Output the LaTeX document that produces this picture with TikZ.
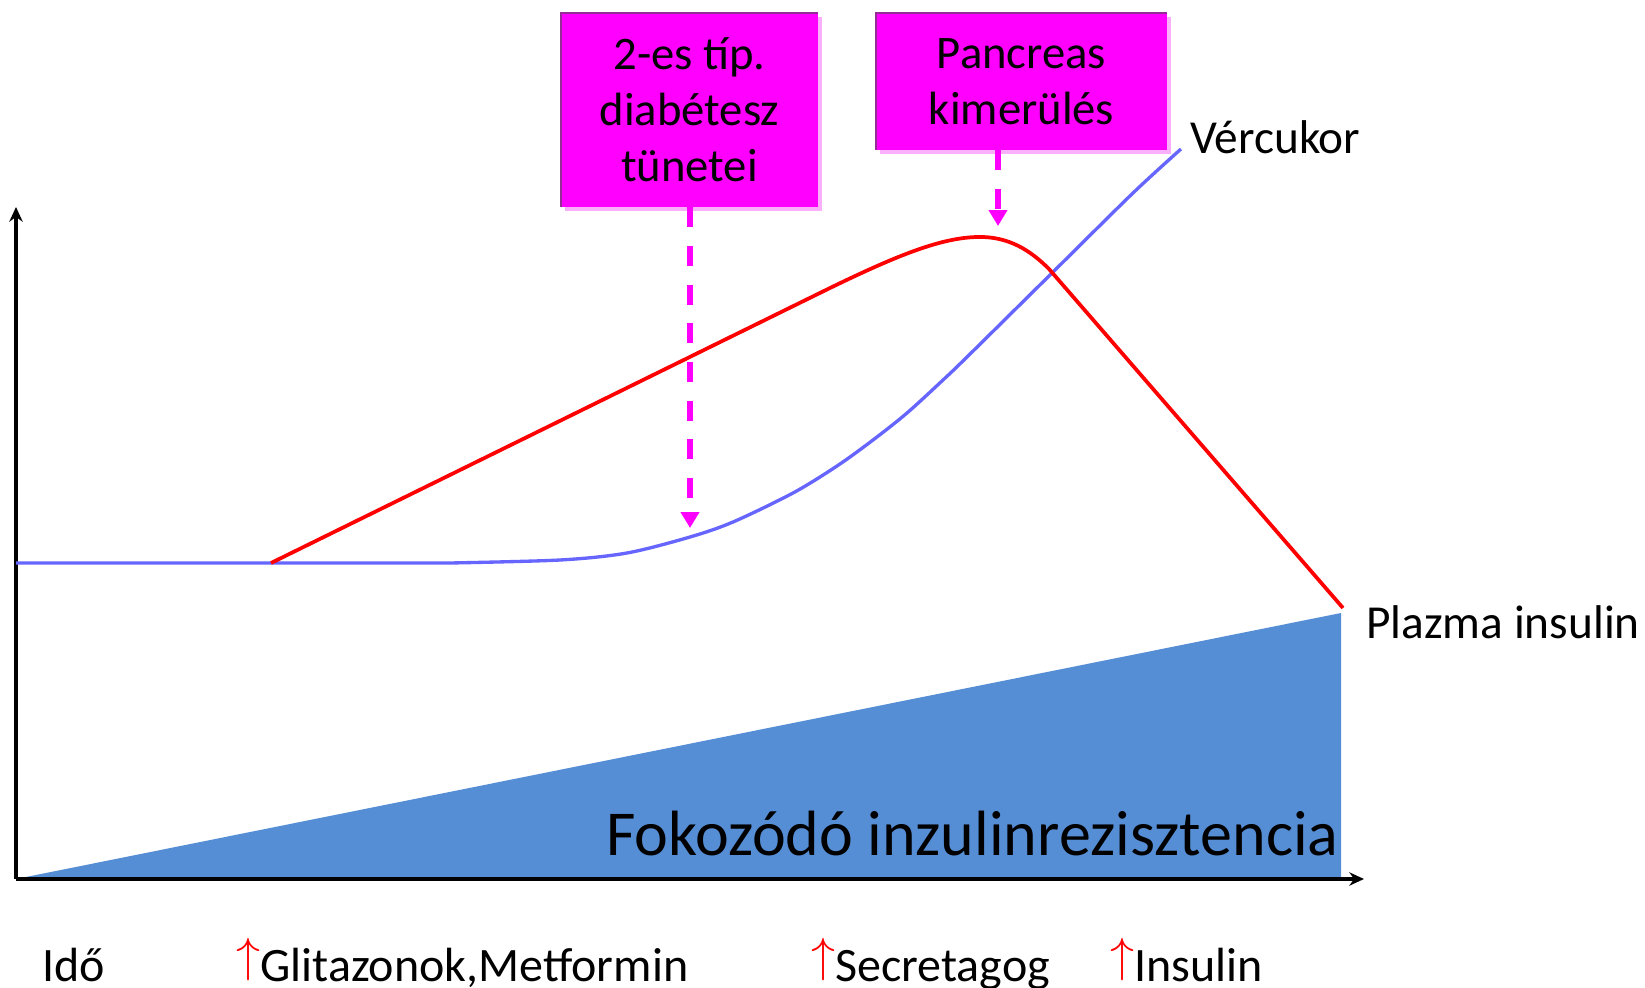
\RequirePackage{fix-cm}
\documentclass[tikz,border=0pt]{standalone}
\usepackage{fontspec}
\setmainfont{Carlito}
\usetikzlibrary{arrows.meta,shadows}
\definecolor{mag}{RGB}{255,0,255}
\definecolor{magdark}{RGB}{150,45,150}
\definecolor{magshadow}{RGB}{250,175,250}
\definecolor{glucose}{RGB}{102,102,255}
\definecolor{resist}{RGB}{85,142,213}
\newcommand{\upmark}{\textcolor{red}{\raisebox{0.194em}{$\uparrow$}}}
\tikzset{
  axis/.style={black, line width=2.5pt, -{Stealth[length=11pt,width=10pt]}},
  glucoseline/.style={glucose, line width=2.5pt},
  insulinline/.style={red, line width=2.8pt},
  stagebox/.style={fill=mag, inner sep=0pt, align=center,
    font=\fontsize{35}{42}\selectfont,
    drop shadow={shadow xshift=3pt, shadow yshift=-3pt, fill=magshadow, opacity=1}},
  dasharrow/.style={mag, line width=4.5pt, dash pattern=on 15pt off 14pt,
    -{Triangle[length=12pt,width=13.5pt]}},
  lbl/.style={inner sep=0pt, font=\fontsize{35.5}{42}\selectfont},
  rowlbl/.style={inner sep=0pt, font=\fontsize{36}{42}\selectfont}
}
\begin{document}
\begin{tikzpicture}[x=0.75pt,y=-0.75pt]
\useasboundingbox (0,0) rectangle (1645,988);

% growing insulin resistance
\fill[resist] (16,879) -- (1341,613) -- (1341,879) -- cycle;
\node[inner sep=0pt, anchor=base west, font=\fontsize{48}{56}\selectfont] (resisttext)
  at (606,855) {Fokozódó inzulinrezisztencia};

% axes
\coordinate (O) at (16,879);
\coordinate (ytop) at (16,207);
\coordinate (xend) at (1364,879);
\draw[axis] (O) -- (ytop);
\draw[axis] (O) -- (xend);

% blood glucose
\draw[glucoseline] (16,563) -- (450,563) -- plot[smooth, tension=0.5] coordinates {
  (450,563) (560,560) (627,553) (690,537) (733,522) (793,493) (837,466)
  (873,440) (907,413) (943,380) (967,357) (1052,273) (1133,193) (1181,149)};

% plasma insulin
\draw[insulinline] (271,563) -- (830,288)
  .. controls (900,254) and (945,236) .. (983,237)
  .. controls (1010,238) and (1030,250) .. (1049,269) -- (1343,608);

% curve labels
\node[lbl, anchor=west] (vc) at (1190,137) {Vércukor};
\node[lbl, anchor=west] (pi) at (1366,622) {Plazma insulin};

% stage boxes
\node[stagebox, minimum width=192.75pt, minimum height=145.5pt] (box1)
  at (689.5,110) {2-es típ.\\diabétesz\\tünetei};
\node[stagebox, minimum width=218.25pt, minimum height=102.75pt] (box2)
  at (1021.5,81.5) {Pancreas\\kimerülés};
\draw[magdark, line width=1.5pt] (box1.south west) -- (box1.north west) -- (box1.north east);
\draw[magdark, line width=1.5pt] (box2.south west) -- (box2.north west) -- (box2.north east);

\coordinate (tip1) at (690,528);
\coordinate (tip2) at (998,226);
\draw[dasharrow] (box1.south -| tip1) -- (tip1);
\draw[dasharrow] (box2.south -| tip2) -- (tip2);

% time axis and treatments
\node[rowlbl, anchor=base west] (ido) at (42,981) {Idő};
\node[rowlbl, anchor=base west] (t1) at (236,981) {\upmark Glitazonok,Metformin};
\node[rowlbl, anchor=base west] (t2) at (811,981) {\upmark Secretagog};
\node[rowlbl, anchor=base west] (t3) at (1110,981) {\upmark Insulin};
\end{tikzpicture}
\end{document}
